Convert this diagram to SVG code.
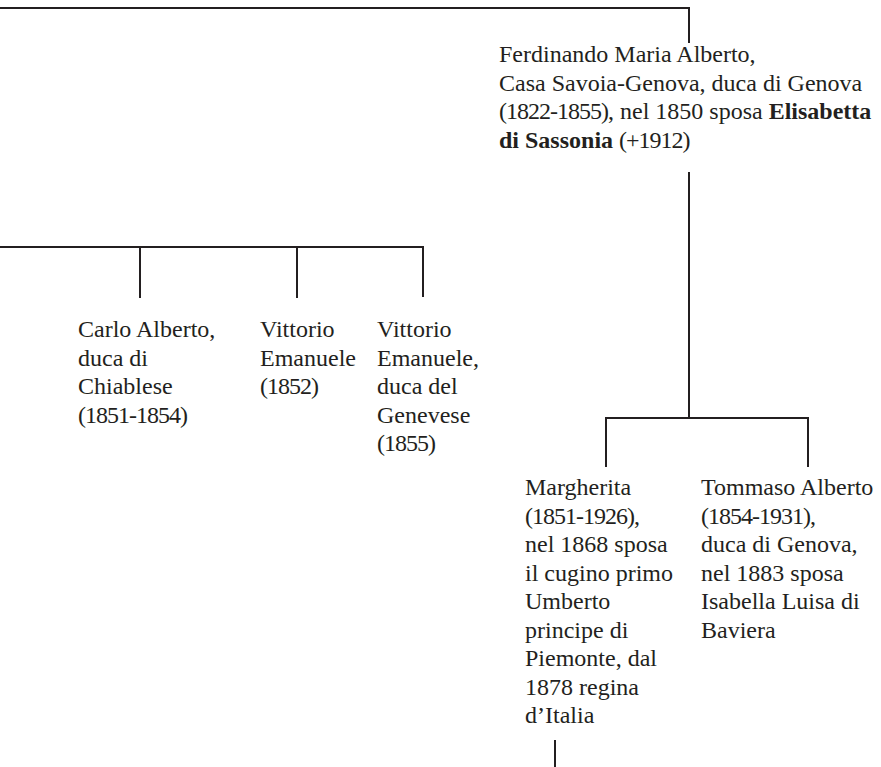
<svg xmlns="http://www.w3.org/2000/svg" width="881" height="767" viewBox="0 0 881 767">
<style>
text{font-family:"Liberation Serif","Times New Roman",serif;font-size:24px;fill:#231f20}
.b{font-weight:bold}
.n{letter-spacing:-1px}
.c{stroke:#231f20;stroke-width:2;fill:none}
</style>
<rect width="881" height="767" fill="#fff"/>
<g id="connectors" class="c">
<path d="M0 8H689V43"/>
<path d="M689 172V418"/>
<path d="M606 467V418H808V467"/>
<path d="M0 247H423V297"/>
<path d="M140 247V298"/>
<path d="M297 247V298"/>
<path d="M555 740V767"/>
</g>
<g id="ferdinando">
<text x="499" y="62">Ferdinando Maria Alberto,</text>
<text x="499" y="90.5">Casa Savoia-Genova, duca di Genova</text>
<text x="499" y="119"><tspan class="n">(1822-1855)</tspan>, nel 1850 sposa <tspan class="b">Elisabetta</tspan></text>
<text x="499" y="147.5"><tspan class="b">di Sassonia</tspan> <tspan class="n">(+1912)</tspan></text>
</g>
<g id="carlo">
<text x="78" y="337">Carlo Alberto,</text>
<text x="78" y="365.5">duca di</text>
<text x="78" y="394">Chiablese</text>
<text x="78" y="422.5" class="n">(1851-1854)</text>
</g>
<g id="vittorio1">
<text x="260" y="337">Vittorio</text>
<text x="260" y="365.5">Emanuele</text>
<text x="260" y="394" class="n">(1852)</text>
</g>
<g id="vittorio2">
<text x="377" y="337">Vittorio</text>
<text x="377" y="365.5">Emanuele,</text>
<text x="377" y="394">duca del</text>
<text x="377" y="422.5">Genevese</text>
<text x="377" y="451" class="n">(1855)</text>
</g>
<g id="margherita">
<text x="525" y="495">Margherita</text>
<text x="525" y="523.5"><tspan class="n">(1851-1926)</tspan>,</text>
<text x="525" y="552">nel 1868 sposa</text>
<text x="525" y="580.5">il cugino primo</text>
<text x="525" y="609">Umberto</text>
<text x="525" y="637.5">principe di</text>
<text x="525" y="666">Piemonte, dal</text>
<text x="525" y="694.5">1878 regina</text>
<text x="525" y="723">d’Italia</text>
</g>
<g id="tommaso">
<text x="701" y="495">Tommaso Alberto</text>
<text x="701" y="523.5"><tspan class="n">(1854-1931)</tspan>,</text>
<text x="701" y="552">duca di Genova,</text>
<text x="701" y="580.5">nel 1883 sposa</text>
<text x="701" y="609">Isabella Luisa di</text>
<text x="701" y="637.5">Baviera</text>
</g>
</svg>
